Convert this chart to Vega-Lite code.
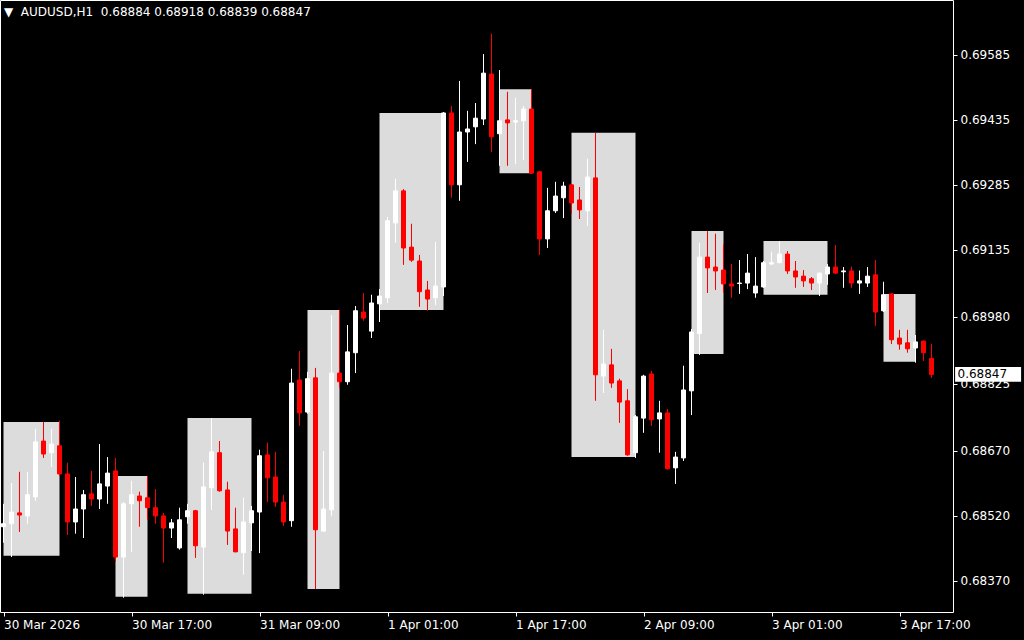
{
  "$schema": "https://vega.github.io/schema/vega-lite/v6.json",
  "width": 953,
  "height": 612,
  "autosize": {"type": "none"},
  "padding": {"left": 0, "top": 0, "right": 71, "bottom": 28},
  "background": "#000000",
  "title": {"text": "▼\u00a0\u00a0AUDUSD,H1\u00a0\u00a00.68884 0.68918 0.68839 0.68847", "anchor": "start", "frame": "group", "orient": "top", "offset": -6, "baseline": "top", "color": "#ffffff", "font": "DejaVu Sans", "fontSize": 12, "fontWeight": "normal", "dx": 4, "dy": 13},
  "datasets": {
    "bars": [
      {"i":0,"o":0.68495,"h":0.68548,"l":0.68458,"c":0.68502},
      {"i":1,"o":0.68502,"h":0.68596,"l":0.68425,"c":0.68529},
      {"i":2,"o":0.68527,"h":0.68622,"l":0.68483,"c":0.68522},
      {"i":3,"o":0.68520,"h":0.68622,"l":0.68502,"c":0.68569},
      {"i":4,"o":0.68564,"h":0.68721,"l":0.68555,"c":0.68691},
      {"i":5,"o":0.68693,"h":0.68737,"l":0.68654,"c":0.68663},
      {"i":6,"o":0.68666,"h":0.68721,"l":0.68633,"c":0.68686},
      {"i":7,"o":0.68682,"h":0.68740,"l":0.68612,"c":0.68617},
      {"i":8,"o":0.68617,"h":0.68643,"l":0.68476,"c":0.68506},
      {"i":9,"o":0.68506,"h":0.68610,"l":0.68479,"c":0.68536},
      {"i":10,"o":0.68536,"h":0.68580,"l":0.68469,"c":0.68569},
      {"i":11,"o":0.68571,"h":0.68624,"l":0.68543,"c":0.68559},
      {"i":12,"o":0.68559,"h":0.68686,"l":0.68536,"c":0.68594},
      {"i":13,"o":0.68589,"h":0.68656,"l":0.68548,"c":0.68619},
      {"i":14,"o":0.68624,"h":0.68654,"l":0.68414,"c":0.68425},
      {"i":15,"o":0.68425,"h":0.68552,"l":0.68331,"c":0.68548},
      {"i":16,"o":0.68548,"h":0.68601,"l":0.68437,"c":0.68569},
      {"i":17,"o":0.68566,"h":0.68576,"l":0.68495,"c":0.68555},
      {"i":18,"o":0.68562,"h":0.68612,"l":0.68511,"c":0.68539},
      {"i":19,"o":0.68539,"h":0.68582,"l":0.68502,"c":0.68520},
      {"i":20,"o":0.68520,"h":0.68527,"l":0.68412,"c":0.68492},
      {"i":21,"o":0.68492,"h":0.68513,"l":0.68469,"c":0.68504},
      {"i":22,"o":0.68446,"h":0.68539,"l":0.68442,"c":0.68511},
      {"i":23,"o":0.68518,"h":0.68548,"l":0.68502,"c":0.68532},
      {"i":24,"o":0.68532,"h":0.68534,"l":0.68423,"c":0.68451},
      {"i":25,"o":0.68448,"h":0.68643,"l":0.68338,"c":0.68587},
      {"i":26,"o":0.68585,"h":0.68746,"l":0.68534,"c":0.68668},
      {"i":27,"o":0.68666,"h":0.68693,"l":0.68576,"c":0.68578},
      {"i":28,"o":0.68580,"h":0.68599,"l":0.68453,"c":0.68485},
      {"i":29,"o":0.68490,"h":0.68539,"l":0.68436,"c":0.68437},
      {"i":30,"o":0.68435,"h":0.68562,"l":0.68384,"c":0.68506},
      {"i":31,"o":0.68504,"h":0.68543,"l":0.68439,"c":0.68532},
      {"i":32,"o":0.68529,"h":0.68673,"l":0.68434,"c":0.68659},
      {"i":33,"o":0.68661,"h":0.68689,"l":0.68552,"c":0.68608},
      {"i":34,"o":0.68610,"h":0.68668,"l":0.68541,"c":0.68552},
      {"i":35,"o":0.68552,"h":0.68569,"l":0.68497,"c":0.68506},
      {"i":36,"o":0.68509,"h":0.68860,"l":0.68495,"c":0.68827},
      {"i":37,"o":0.68834,"h":0.68901,"l":0.68728,"c":0.68758},
      {"i":38,"o":0.68760,"h":0.68853,"l":0.68756,"c":0.68837},
      {"i":39,"o":0.68839,"h":0.68862,"l":0.68351,"c":0.68488},
      {"i":40,"o":0.68485,"h":0.68670,"l":0.68484,"c":0.68536},
      {"i":41,"o":0.68534,"h":0.68984,"l":0.68520,"c":0.68850},
      {"i":42,"o":0.68850,"h":0.68996,"l":0.68816,"c":0.68830},
      {"i":43,"o":0.68830,"h":0.68961,"l":0.68823,"c":0.68899},
      {"i":44,"o":0.68897,"h":0.69005,"l":0.68850,"c":0.68994},
      {"i":45,"o":0.68991,"h":0.69035,"l":0.68971,"c":0.68977},
      {"i":46,"o":0.68947,"h":0.69031,"l":0.68931,"c":0.69012},
      {"i":47,"o":0.69010,"h":0.69044,"l":0.68968,"c":0.69028},
      {"i":48,"o":0.69024,"h":0.69211,"l":0.69012,"c":0.69202},
      {"i":49,"o":0.69197,"h":0.69299,"l":0.69151,"c":0.69271},
      {"i":50,"o":0.69271,"h":0.69275,"l":0.69100,"c":0.69139},
      {"i":51,"o":0.69141,"h":0.69195,"l":0.69107,"c":0.69111},
      {"i":52,"o":0.69109,"h":0.69123,"l":0.69003,"c":0.69038},
      {"i":53,"o":0.69042,"h":0.69063,"l":0.68994,"c":0.69021},
      {"i":54,"o":0.69024,"h":0.69153,"l":0.69007,"c":0.69051},
      {"i":55,"o":0.69049,"h":0.69453,"l":0.69028,"c":0.69451},
      {"i":56,"o":0.69451,"h":0.69467,"l":0.69255,"c":0.69285},
      {"i":57,"o":0.69285,"h":0.69525,"l":0.69248,"c":0.69407},
      {"i":58,"o":0.69407,"h":0.69456,"l":0.69338,"c":0.69414},
      {"i":59,"o":0.69419,"h":0.69474,"l":0.69379,"c":0.69439},
      {"i":60,"o":0.69437,"h":0.69587,"l":0.69423,"c":0.69543},
      {"i":61,"o":0.69541,"h":0.69634,"l":0.69361,"c":0.69396},
      {"i":62,"o":0.69403,"h":0.69550,"l":0.69329,"c":0.69433},
      {"i":63,"o":0.69435,"h":0.69500,"l":0.69329,"c":0.69428},
      {"i":64,"o":0.69430,"h":0.69486,"l":0.69333,"c":0.69433},
      {"i":65,"o":0.69433,"h":0.69467,"l":0.69342,"c":0.69460},
      {"i":66,"o":0.69460,"h":0.69506,"l":0.69310,"c":0.69312},
      {"i":67,"o":0.69315,"h":0.69317,"l":0.69123,"c":0.69160},
      {"i":68,"o":0.69160,"h":0.69278,"l":0.69139,"c":0.69225},
      {"i":69,"o":0.69225,"h":0.69292,"l":0.69220,"c":0.69259},
      {"i":70,"o":0.69255,"h":0.69292,"l":0.69208,"c":0.69282},
      {"i":71,"o":0.69285,"h":0.69287,"l":0.69218,"c":0.69243},
      {"i":72,"o":0.69250,"h":0.69280,"l":0.69206,"c":0.69227},
      {"i":73,"o":0.69225,"h":0.69345,"l":0.69190,"c":0.69303},
      {"i":74,"o":0.69301,"h":0.69405,"l":0.68786,"c":0.68846},
      {"i":75,"o":0.68843,"h":0.68950,"l":0.68804,"c":0.68871},
      {"i":76,"o":0.68869,"h":0.68906,"l":0.68816,"c":0.68827},
      {"i":77,"o":0.68832,"h":0.68837,"l":0.68735,"c":0.68783},
      {"i":78,"o":0.68786,"h":0.68813,"l":0.68659,"c":0.68661},
      {"i":79,"o":0.68666,"h":0.68753,"l":0.68654,"c":0.68749},
      {"i":80,"o":0.68746,"h":0.68846,"l":0.68712,"c":0.68843},
      {"i":81,"o":0.68848,"h":0.68855,"l":0.68728,"c":0.68742},
      {"i":82,"o":0.68744,"h":0.68786,"l":0.68666,"c":0.68758},
      {"i":83,"o":0.68758,"h":0.68767,"l":0.68627,"c":0.68629},
      {"i":84,"o":0.68631,"h":0.68668,"l":0.68594,"c":0.68656},
      {"i":85,"o":0.68654,"h":0.68867,"l":0.68647,"c":0.68811},
      {"i":86,"o":0.68809,"h":0.68952,"l":0.68753,"c":0.68945},
      {"i":87,"o":0.68941,"h":0.69151,"l":0.68892,"c":0.69118},
      {"i":88,"o":0.69118,"h":0.69178,"l":0.69035,"c":0.69093},
      {"i":89,"o":0.69095,"h":0.69172,"l":0.69042,"c":0.69086},
      {"i":90,"o":0.69088,"h":0.69148,"l":0.69035,"c":0.69056},
      {"i":91,"o":0.69056,"h":0.69102,"l":0.69024,"c":0.69051},
      {"i":92,"o":0.69057,"h":0.69111,"l":0.69033,"c":0.69058},
      {"i":93,"o":0.69058,"h":0.69125,"l":0.69044,"c":0.69081},
      {"i":94,"o":0.69035,"h":0.69118,"l":0.69024,"c":0.69051},
      {"i":95,"o":0.69049,"h":0.69109,"l":0.69047,"c":0.69105},
      {"i":96,"o":0.69102,"h":0.69130,"l":0.69100,"c":0.69105},
      {"i":97,"o":0.69105,"h":0.69155,"l":0.69104,"c":0.69125},
      {"i":98,"o":0.69125,"h":0.69132,"l":0.69079,"c":0.69086},
      {"i":99,"o":0.69086,"h":0.69109,"l":0.69047,"c":0.69072},
      {"i":100,"o":0.69074,"h":0.69088,"l":0.69049,"c":0.69063},
      {"i":101,"o":0.69068,"h":0.69072,"l":0.69042,"c":0.69058},
      {"i":102,"o":0.69058,"h":0.69082,"l":0.69028,"c":0.69081},
      {"i":103,"o":0.69079,"h":0.69102,"l":0.69054,"c":0.69095},
      {"i":104,"o":0.69095,"h":0.69146,"l":0.69079,"c":0.69081},
      {"i":105,"o":0.69084,"h":0.69095,"l":0.69047,"c":0.69086},
      {"i":106,"o":0.69086,"h":0.69096,"l":0.69047,"c":0.69058},
      {"i":107,"o":0.69058,"h":0.69087,"l":0.69033,"c":0.69063},
      {"i":108,"o":0.69058,"h":0.69095,"l":0.69049,"c":0.69074},
      {"i":109,"o":0.69077,"h":0.69111,"l":0.68959,"c":0.68991},
      {"i":110,"o":0.68994,"h":0.69061,"l":0.68991,"c":0.69031},
      {"i":111,"o":0.69033,"h":0.69034,"l":0.68917,"c":0.68927},
      {"i":112,"o":0.68931,"h":0.68950,"l":0.68904,"c":0.68917},
      {"i":113,"o":0.68920,"h":0.68950,"l":0.68897,"c":0.68906},
      {"i":114,"o":0.68908,"h":0.68938,"l":0.68874,"c":0.68922},
      {"i":115,"o":0.68924,"h":0.68925,"l":0.68878,"c":0.68897},
      {"i":116,"o":0.68884,"h":0.68918,"l":0.68839,"c":0.68847}
    ],
    "zones": [
      {"a":0,"b":7,"top":0.68737,"bot":0.68428},
      {"a":14,"b":18,"top":0.68612,"bot":0.68333},
      {"a":23,"b":31,"top":0.68746,"bot":0.68340},
      {"a":38,"b":42,"top":0.68996,"bot":0.68351},
      {"a":47,"b":55,"top":0.69451,"bot":0.68996},
      {"a":62,"b":66,"top":0.69506,"bot":0.69312},
      {"a":71,"b":79,"top":0.69405,"bot":0.68656},
      {"a":86,"b":90,"top":0.69178,"bot":0.68894},
      {"a":95,"b":103,"top":0.69155,"bot":0.69031},
      {"a":110,"b":114,"top":0.69033,"bot":0.68876}
    ],
    "last": [{"p":0.68847,"label":"0.68847"}]
  },
  "layer": [
    {
      "data": {"name": "zones"},
      "mark": {"type": "rect", "color": "#dcdcdc"},
      "encoding": {
        "x": {"field": "a", "type": "quantitative", "title": null,
              "scale": {"domain": [-0.4375, 118.6875], "nice": false, "zero": false, "padding": 0},
              "axis": {"orient": "bottom", "values": [0,16,32,48,64,80,96,112],
                       "labelExpr": "['30 Mar 2026','30 Mar 17:00','31 Mar 09:00','1 Apr 01:00','1 Apr 17:00','2 Apr 09:00','3 Apr 01:00','3 Apr 17:00'][round(datum.value/16)]"}},
        "x2": {"field": "b"},
        "y": {"field": "top", "type": "quantitative", "title": null,
              "scale": {"domain": [0.68298, 0.69712], "nice": false, "zero": false},
              "axis": {"orient": "right", "values": [0.69585,0.69435,0.69285,0.69135,0.68980,0.68825,0.68670,0.68520,0.68370], "format": ".5f"}},
        "y2": {"field": "bot"}
      }
    },
    {
      "data": {"name": "bars"},
      "mark": {"type": "rule", "strokeWidth": 1},
      "encoding": {
        "x": {"field": "i", "type": "quantitative", "title": null},
        "y": {"field": "l", "type": "quantitative", "title": null},
        "y2": {"field": "h"},
        "color": {"condition": {"test": "datum.c < datum.o", "value": "#ff0000"}, "value": "#ffffff"}
      }
    },
    {
      "data": {"name": "bars"},
      "mark": {"type": "bar", "size": 4, "strokeWidth": 1, "orient": "vertical"},
      "encoding": {
        "x": {"field": "i", "type": "quantitative", "title": null},
        "y": {"field": "o", "type": "quantitative", "title": null},
        "y2": {"field": "c"},
        "fill": {"condition": {"test": "datum.c < datum.o", "value": "#ff0000"}, "value": "#ffffff"},
        "stroke": {"condition": {"test": "datum.c < datum.o", "value": "#ff0000"}, "value": "#ffffff"}
      }
    },
    {
      "data": {"name": "last"},
      "mark": {"type": "rect", "color": "#ffffff"},
      "encoding": {
        "x": {"datum": 118.95},
        "x2": {"datum": 127.2},
        "y": {"datum": 0.68864},
        "y2": {"datum": 0.68830}
      }
    },
    {
      "data": {"name": "last"},
      "mark": {"type": "text", "align": "left", "baseline": "middle", "color": "#000000", "font": "DejaVu Sans", "fontSize": 12},
      "encoding": {
        "x": {"datum": 119.25},
        "y": {"field": "p", "type": "quantitative", "title": null},
        "text": {"field": "label"}
      }
    }
  ],
  "config": {
    "view": {"stroke": "#ffffff", "strokeWidth": 1},
    "axis": {"grid": false, "domain": false, "labelColor": "#ffffff", "tickColor": "#ffffff", "tickSize": 4, "labelFont": "DejaVu Sans", "labelFontSize": 12, "labelOverlap": false, "labelFlush": false},
    "axisX": {"labelAlign": "left", "labelBaseline": "top", "labelPadding": 3},
    "axisY": {"labelAlign": "left", "labelBaseline": "middle", "labelPadding": 3}
  }
}
